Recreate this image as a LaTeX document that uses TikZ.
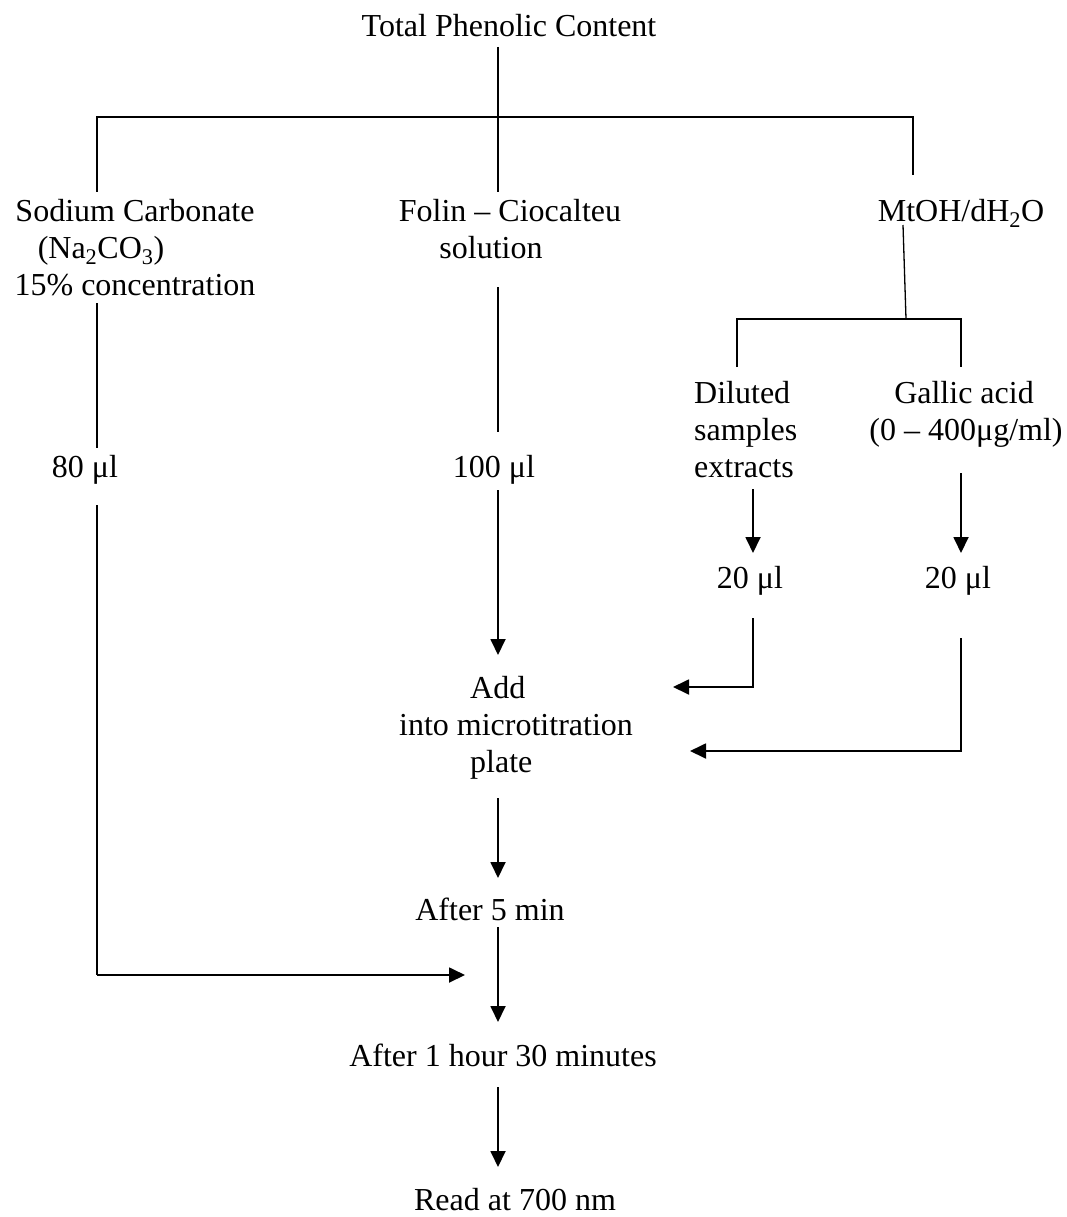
\documentclass[tikz,border=0pt]{standalone}
\usepackage{fontspec}
\setmainfont{Liberation Serif}
\usetikzlibrary{arrows.meta}

\tikzset{
  lbl/.style={anchor=base, inner sep=0pt, font=\fontsize{32}{37}\selectfont},
  lblw/.style={lbl, anchor=base west},
  link/.style={line width=1.3pt},
  flow/.style={line width=1.8pt, -{Triangle[length=16pt,width=15pt]}},
}

\begin{document}
\begin{tikzpicture}[x=1pt,y=-1pt]
\useasboundingbox (0,0) rectangle (1067,1217);

% ---- text nodes ----
\node[lbl] (title) at (509,37) {Total Phenolic Content};

\node[lbl] (sod1) at (135,221) {Sodium Carbonate};
\node[lbl] (sod2) at (101,258) {(Na\textsubscript{2}CO\textsubscript{3})};
\node[lbl] (sod3) at (135,295) {15\% concentration};

\node[lbl] (fol1) at (510,221) {Folin – Ciocalteu};
\node[lbl] (fol2) at (491,258) {solution};

\node[lbl] (mt) at (961,221) {MtOH/dH\textsubscript{2}O};

\node[lblw] (dil1) at (694,403) {Diluted};
\node[lblw] (dil2) at (694,440) {samples};
\node[lblw] (dil3) at (694,477) {extracts};

\node[lbl] (gal1) at (964,403) {Gallic acid};
\node[lbl] (gal2) at (966,440) {(0 – 400μg/ml)};

\node[lbl] (v80)  at (85,477)  {80 μl};
\node[lbl] (v100) at (494,477) {100 μl};
\node[lbl] (v20a) at (750,588) {20 μl};
\node[lbl] (v20b) at (958,588) {20 μl};

\node[lblw] (add1) at (470,698) {Add};
\node[lbl]  (add2) at (516,735) {into microtitration};
\node[lblw] (add3) at (470,772) {plate};

\node[lbl] (t5)   at (490,920)  {After 5 min};
\node[lbl] (t90)  at (503,1066) {After 1 hour 30 minutes};
\node[lbl] (read) at (515,1210) {Read at 700 nm};

% ---- junction and end points of the connectors ----
\coordinate (titleS) at (498,47);
\coordinate (hubC)   at (498,117);
\coordinate (hubL)   at (97,117);
\coordinate (hubR)   at (913,117);
\coordinate (sodN)   at (97,192);
\coordinate (folN)   at (498,192);
\coordinate (mtN)    at (913,175);

\coordinate (mtS)    at (903,225);
\coordinate (subC)   at (906,319);
\coordinate (subL)   at (737,319);
\coordinate (subR)   at (961,319);
\coordinate (dilN)   at (737,367);
\coordinate (galN)   at (961,367);

\coordinate (dilS)   at (753,489);
\coordinate (v20aN)  at (753,553);
\coordinate (galS)   at (961,473);
\coordinate (v20bN)  at (961,553);

\coordinate (sodS)   at (97,303);
\coordinate (v80N)   at (97,448);
\coordinate (folS)   at (498,287);
\coordinate (v100N)  at (498,432);

\coordinate (v80S)   at (97,505);
\coordinate (v80B)   at (97,975);
\coordinate (naIn)   at (465,975);

\coordinate (v100S)  at (498,490);
\coordinate (addN)   at (498,655);

\coordinate (v20aS)  at (753,618);
\coordinate (v20aB)  at (753,687);
\coordinate (addE1)  at (673,687);
\coordinate (v20bS)  at (961,638);
\coordinate (v20bB)  at (961,751);
\coordinate (addE2)  at (690,751);

\coordinate (addS)   at (498,798);
\coordinate (t5N)    at (498,878);
\coordinate (t5S)    at (498,927);
\coordinate (t90N)   at (498,1022);
\coordinate (t90S)   at (498,1087);
\coordinate (readN)  at (498,1167);

% ---- branching lines ----
\draw[link] (titleS) -- (hubC) -- (folN);
\draw[link] (sodN) -- (hubL) -- (hubR) -- (mtN);
\draw[link] (mtS) -- (subC);
\draw[link] (dilN) -- (subL) -- (subR) -- (galN);
\draw[link] (sodS) -- (v80N);
\draw[link] (folS) -- (v100N);

% ---- flow arrows ----
\draw[flow] (dilS) -- (v20aN);
\draw[flow] (galS) -- (v20bN);
\draw[flow] (v100S) -- (addN);
\draw[flow] (v20aS) -- (v20aB) -- (addE1);
\draw[flow] (v20bS) -- (v20bB) -- (addE2);
\draw[flow] (addS) -- (t5N);
\draw[link] (v80S) -- (v80B);
\draw[flow] (v80B) -- (naIn);
\draw[flow] (t5S) -- (t90N);
\draw[flow] (t90S) -- (readN);
\end{tikzpicture}
\end{document}
